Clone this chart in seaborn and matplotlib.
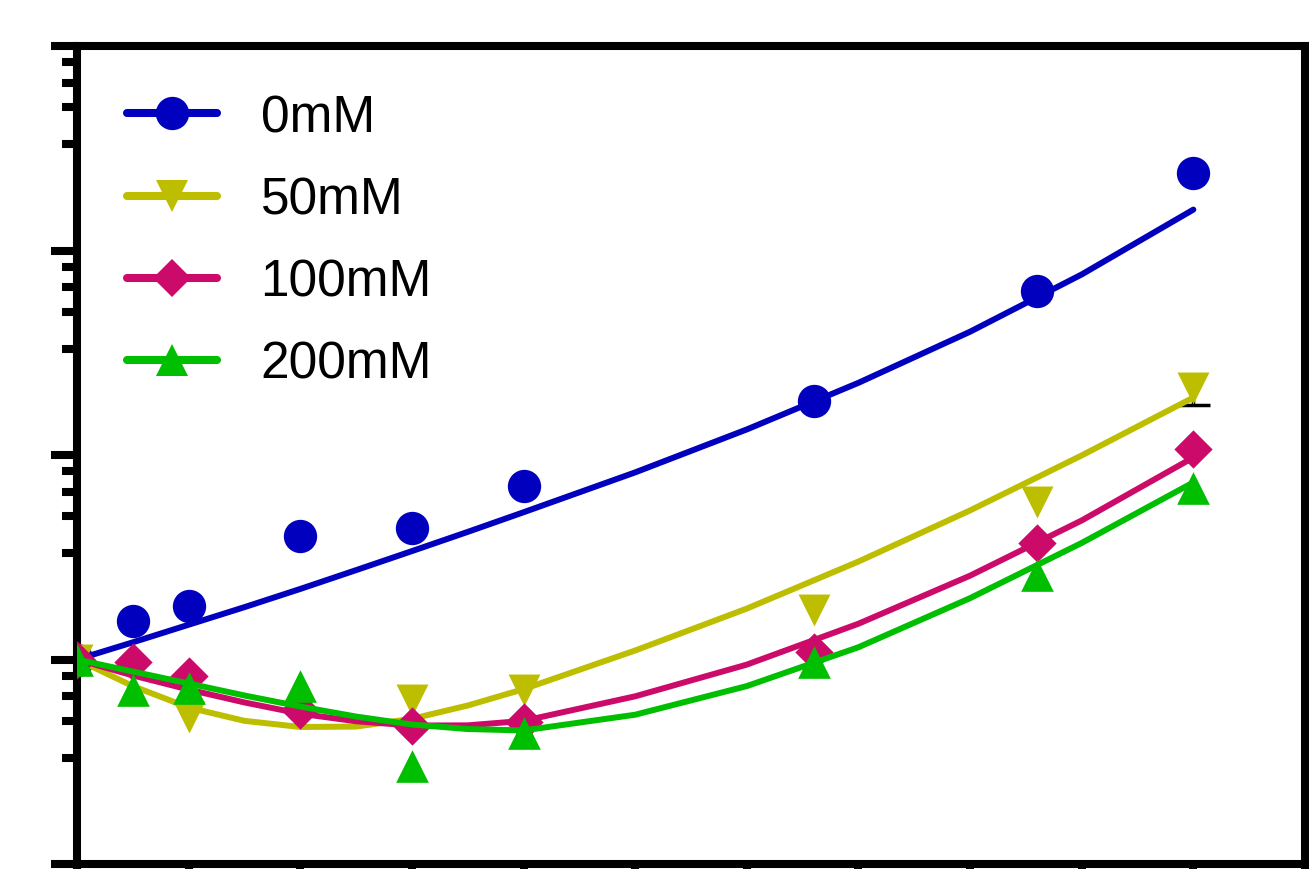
import matplotlib
matplotlib.use("Agg")
import matplotlib.pyplot as plt
from matplotlib.lines import Line2D
import numpy as np
import seaborn as sns

# ---- data (log2 fold change vs time) ----
time = [0, 0.5, 1, 2, 3, 4, 6.6, 8.6, 10]
mM0 = [0, 0.187, 0.261, 0.603, 0.644, 0.847, 1.263, 1.801, 2.380]
mM50 = [0, np.nan, -0.281, np.nan, -0.196, -0.147, 0.244, 0.768, 1.330]
mM100 = [0, -0.01, -0.083, -0.245, -0.326, -0.308, 0.035, 0.572, 1.027]
mM200 = [0, -0.147, -0.137, -0.130, -0.521, -0.357, -0.010, 0.411, 0.841]

# only error bar that shows in the figure (last 50mM point, lower part)
err_time = [10]
err_val = [1.330]
err_low = [0.086]

# fitted curves
fit_time = [0, 0.5, 1, 1.5, 2, 2.5, 3, 3.5, 4, 5, 6, 7, 8, 9, 10]
fit_mM0 = [0, 0.084, 0.17, 0.256, 0.345, 0.437, 0.53, 0.624, 0.72, 0.915, 1.125, 1.353, 1.603, 1.883, 2.2]
fit_mM50 = [0, -0.13, -0.235, -0.30, -0.33, -0.328, -0.29, -0.225, -0.145, 0.044, 0.249, 0.479, 0.729, 0.998, 1.281]
fit_mM100 = [0, -0.078, -0.147, -0.21, -0.265, -0.302, -0.323, -0.322, -0.30, -0.18, -0.025, 0.175, 0.41, 0.68, 0.988]
fit_mM200 = [0, -0.059, -0.117, -0.176, -0.230, -0.279, -0.318, -0.340, -0.347, -0.27, -0.13, 0.06, 0.30, 0.57, 0.866]

labels = ["0mM", "50mM", "100mM", "200mM"]
colors = ["#0000BE", "#BEBE00", "#CC0A6A", "#00BE00"]
markers = ["o", "v", "D", "^"]
msizes = [24, 23, 19.5, 23.5]

points = [mM0, mM50, mM100, mM200]
fits = [fit_mM0, fit_mM50, fit_mM100, fit_mM200]

sns.set_theme(style="white")
plt.rcParams["font.family"] = ["Liberation Sans", "DejaVu Sans"]
plt.rcParams["text.color"] = "black"

fig = plt.figure(figsize=(13.09, 8.70), dpi=100)
ax = fig.add_axes([77 / 1309, 5 / 870, 1228 / 1309, 818 / 870])

for i in range(4):
    z = 3 + 2 * i
    if i == 1:
        # lower error bar, sits under the marker
        eb = ax.errorbar(err_time, err_val, yerr=[err_low, [0]], fmt="none",
                         ecolor="black", elinewidth=2.5, capsize=12,
                         capthick=2.5, zorder=z - 0.5)
        for cap in eb[1]:
            if np.allclose(cap.get_ydata(), err_val):
                cap.set_visible(False)
    sns.scatterplot(x=time, y=points[i], marker=markers[i], s=msizes[i] ** 2,
                    color=colors[i], linewidth=0, ax=ax, zorder=z)
    sns.lineplot(x=fit_time, y=fits[i], color=colors[i], linewidth=4.3,
                 ax=ax, zorder=z + 1, errorbar=None)

ax.set_xlim(0, 11)
ax.set_ylim(-1, 3)
ax.set_xticks(range(12))
ax.set_yticks(range(-1, 4))
minor_frac = [0.52, 0.70, 0.82, 0.92]
ax.set_yticks([n + f for n in range(-1, 3) for f in minor_frac], minor=True)
ax.tick_params(axis="both", which="major", direction="out", length=19, width=5.8,
               color="black", labelbottom=False, labelleft=False,
               bottom=True, left=True)
ax.tick_params(axis="y", which="minor", direction="out", length=11, width=5.8,
               color="black", left=True)
ax.set_xlabel("")
ax.set_ylabel("")
for s in ax.spines.values():
    s.set_linewidth(5.8)
    s.set_color("black")
    s.set_visible(True)

handles = [Line2D([0], [0], color=colors[i], lw=5.8, marker=markers[i],
                  markersize=msizes[i], markeredgewidth=0) for i in range(4)]
ax.legend(handles, labels, loc="upper left", bbox_to_anchor=(0.0407, 0.942),
          frameon=False, fontsize=37, borderpad=0, borderaxespad=0,
          handlelength=1.75, handletextpad=0.85, labelspacing=0.645,
          labelcolor="black")

fig.savefig("out.png", dpi=100)
